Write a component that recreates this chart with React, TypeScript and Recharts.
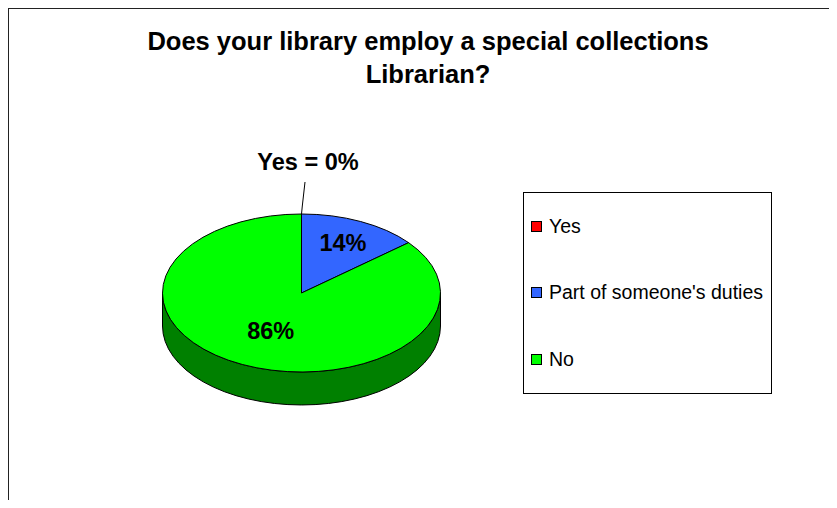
import React from 'react';
import { PieChart, Pie, Legend } from 'recharts';

const categories = ['Yes', "Part of someone's duties", 'No'];
const shares = [0, 14, 86];
const colors = ['#FF0000', '#3366FF', '#00FF00'];
const sideColors = ['#800000', '#1A3380', '#008000'];

const FONT = "'Liberation Sans', Arial, sans-serif";

// top face and side wall get their own copies of the rows
const topData = categories.map((name, i) => ({ name, value: shares[i], fill: colors[i] }));
const sideData = categories.map((name, i) => ({ name, value: shares[i], fill: sideColors[i] }));

// pie geometry (the 3d look is an ellipse plus a wall)
const CX = 293.5;
const CY = 285;
const R = 139;
const TILT = 79 / 139;
const DEPTH = 33;
const RAD = Math.PI / 180;

// how far out along the radius each % label sits
const labelRadius = [1, 0.7, 0.52];

const pt = (cx: number, cy: number, r: number, a: number, dy = 0) => [
  cx + r * Math.cos(a * RAD),
  cy - r * TILT * Math.sin(a * RAD) + dy,
];

const TopSlice = (props: any) => {
  const { cx, cy, outerRadius, startAngle, endAngle, fill } = props;
  if (Math.abs(endAngle - startAngle) < 1e-6) return null;
  const [x1, y1] = pt(cx, cy, outerRadius, startAngle);
  const [x2, y2] = pt(cx, cy, outerRadius, endAngle);
  const large = Math.abs(endAngle - startAngle) > 180 ? 1 : 0;
  const sweep = endAngle < startAngle ? 1 : 0;
  const ry = outerRadius * TILT;
  return (
    <path
      d={`M${cx},${cy}L${x1},${y1}A${outerRadius},${ry} 0 ${large} ${sweep} ${x2},${y2}Z`}
      fill={fill}
      stroke="#000"
      strokeWidth={1}
      strokeLinejoin="round"
    />
  );
};

const SideSlice = (props: any) => {
  const { cx, cy, outerRadius, startAngle, endAngle, fill } = props;
  const hi = Math.max(startAngle, endAngle);
  const lo = Math.min(startAngle, endAngle);
  const ry = outerRadius * TILT;
  const parts: number[][] = [];
  // front half of the disc is angles (off-180 .. off)
  for (const off of [-360, 0, 360]) {
    const a = Math.min(hi, off);
    const b = Math.max(lo, off - 180);
    if (a > b) parts.push([a, b]);
  }
  if (!parts.length) return null;
  return (
    <g>
      {parts.map(([a, b], i) => {
        const [x1, y1] = pt(cx, cy, outerRadius, a);
        const [x2, y2] = pt(cx, cy, outerRadius, b);
        return (
          <path
            key={i}
            d={`M${x1},${y1}A${outerRadius},${ry} 0 0 1 ${x2},${y2}L${x2},${y2 + DEPTH}A${outerRadius},${ry} 0 0 0 ${x1},${y1 + DEPTH}Z`}
            fill={fill}
            stroke="#000"
            strokeWidth={1}
          />
        );
      })}
    </g>
  );
};

const renderLabel = (props: any) => {
  const { cx, cy, midAngle, outerRadius, percent, index, name } = props;
  const pct = `${Math.round(percent * 100)}%`;
  if (index === 0) {
    const [x, y] = pt(cx, cy, outerRadius, 90);
    return (
      <g>
        <path d={`M${x + 3.5},${y - 32}L${x + 0.8},${y - 8}L${x},${y}`} fill="none" stroke="#000" strokeWidth={1} />
        <text x={x + 6.5} y={y - 44} textAnchor="middle" fontFamily={FONT} fontWeight="bold" fontSize={23.5} fill="#000">
          {`${name} = ${pct}`}
        </text>
      </g>
    );
  }
  const [x, y] = pt(cx, cy, outerRadius * labelRadius[index], midAngle);
  return (
    <text x={x} y={y + 8.5} textAnchor="middle" fontFamily={FONT} fontWeight="bold" fontSize={23.5} fill="#000">
      {pct}
    </text>
  );
};

const renderLegend = ({ payload }: any) => {
  // only the top-face entries, in data order
  const items = (payload || [])
    .filter((p: any) => colors.includes(p.color))
    .sort((a: any, b: any) => categories.indexOf(a.value) - categories.indexOf(b.value));
  return (
    <div
      style={{
        boxSizing: 'border-box',
        width: 249,
        height: 202,
        border: '1px solid #000',
        background: '#fff',
        fontFamily: FONT,
        fontSize: 19.5,
        display: 'flex',
        flexDirection: 'column',
        justifyContent: 'space-around',
      }}
    >
      {items.map((p: any) => (
        <div key={p.value} style={{ display: 'flex', alignItems: 'center', paddingLeft: 7 }}>
          <span
            style={{
              boxSizing: 'border-box',
              width: 11,
              height: 11,
              border: '1px solid #000',
              background: p.color,
              marginRight: 7,
            }}
          />
          <span style={{ color: '#000' }}>{p.value}</span>
        </div>
      ))}
    </div>
  );
};

export default function App() {
  return (
    <div style={{ position: 'relative', width: 829, height: 500, marginBottom: -8, background: '#fff' }}>
      <div
        style={{
          position: 'absolute',
          left: -1,
          top: -1,
          right: 0,
          bottom: -10,
          borderLeft: '2px solid #222',
          borderTop: '2px solid #222',
          pointerEvents: 'none',
        }}
      />
      <div
        style={{
          position: 'absolute',
          left: 0,
          top: 17,
          width: 840,
          textAlign: 'center',
          fontFamily: FONT,
          fontWeight: 'bold',
          fontSize: 25.5,
          lineHeight: '33px',
          color: '#000',
        }}
      >
        Does your library employ a special collections
        <br />
        Librarian?
      </div>
      <PieChart width={829} height={500} margin={{ top: 0, right: 0, bottom: 0, left: 0 }}>
        <Pie
          data={sideData}
          dataKey="value"
          nameKey="name"
          cx={CX}
          cy={CY}
          outerRadius={R}
          startAngle={90}
          endAngle={-270}
          shape={SideSlice}
          inactiveShape={SideSlice}
          activeShape={SideSlice}
          legendType="none"
          isAnimationActive={false}
        />
        <Pie
          data={topData}
          dataKey="value"
          nameKey="name"
          cx={CX}
          cy={CY}
          outerRadius={R}
          startAngle={90}
          endAngle={-270}
          shape={TopSlice}
          inactiveShape={TopSlice}
          activeShape={TopSlice}
          label={renderLabel}
          labelLine={false}
          isAnimationActive={false}
        />
        <Legend
          layout="vertical"
          align="right"
          verticalAlign="middle"
          content={renderLegend}
          wrapperStyle={{ left: 515, top: 184, width: 249, height: 202 }}
        />
      </PieChart>
    </div>
  );
}
